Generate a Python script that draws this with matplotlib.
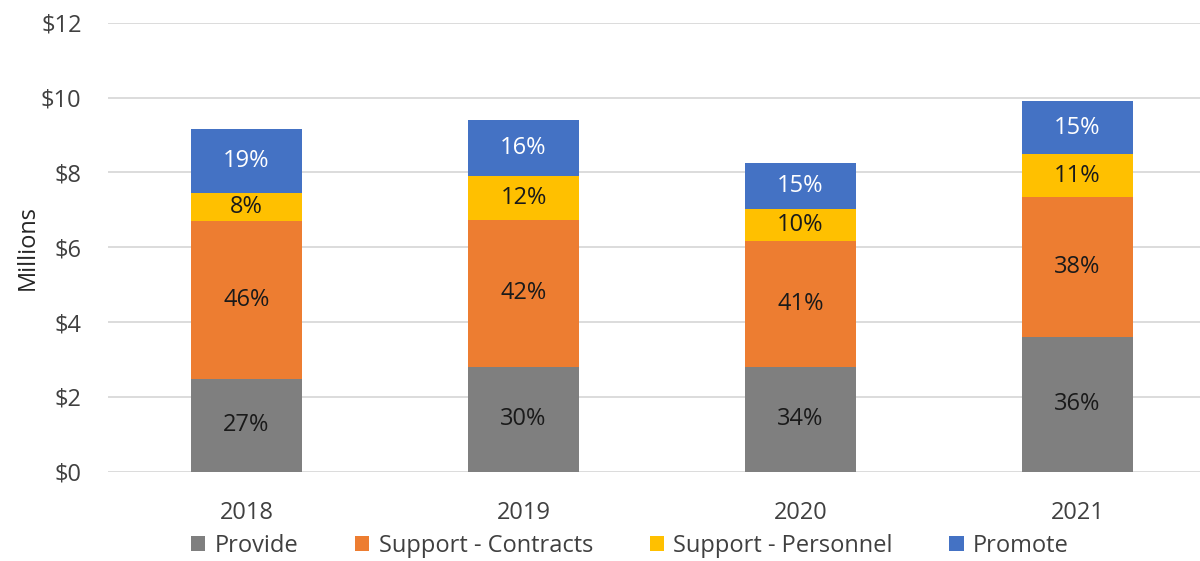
import numpy as np
import matplotlib.pyplot as plt
from matplotlib.ticker import FuncFormatter

years = ['2018', '2019', '2020', '2021']
series = ['Provide', 'Support - Contracts', 'Support - Personnel', 'Promote']

# values in $ millions
provide = [2.49, 2.81, 2.81, 3.61]
contracts = [4.22, 3.93, 3.37, 3.74]
personnel = [0.75, 1.16, 0.85, 1.13]
promote = [1.71, 1.49, 1.23, 1.44]

colors = ['#7F7F7F', '#ED7D31', '#FFC000', '#4472C4']
label_colors = ['#1a1a1a', '#1a1a1a', '#1a1a1a', 'white']

plt.rcParams['font.family'] = ['Open Sans', 'DejaVu Sans']

fig = plt.figure(figsize=(12, 5.61), dpi=100)
ax = fig.add_axes([108 / 1200, 0.159, 1100 / 1200, 0.8005])

x = np.arange(len(years))
data = np.array([provide, contracts, personnel, promote])
totals = data.sum(axis=0)
bottom = np.zeros(len(years))
width = 0.4

for vals, name, col, tcol in zip(data, series, colors, label_colors):
    ax.bar(x, vals, width, bottom=bottom, color=col, label=name, zorder=3)
    for xi, v, b, t in zip(x, vals, bottom, totals):
        ax.text(xi, b + v / 2, f'{round(v / t * 100):.0f}%', ha='center', va='center',
                fontsize=17, color=tcol, zorder=4)
    bottom += vals

ax.set_ylim(0, 12)
ax.set_yticks(np.arange(0, 13, 2))
ax.yaxis.set_major_formatter(FuncFormatter(lambda v, p: f'${v:.0f}'))
ax.set_xlim(-0.5, 3.5 - 8 / 275)
ax.set_xticks(x)
ax.set_xticklabels(years)

ax.grid(axis='y', color='#D9D9D9', linewidth=1.3, zorder=0)
for s in ax.spines.values():
    s.set_visible(False)
ax.tick_params(axis='both', length=0, labelsize=17, labelcolor='#404040')
ax.tick_params(axis='y', pad=19)
ax.tick_params(axis='x', pad=21)

ax.set_ylabel('Millions', fontsize=17, color='#262626', labelpad=8)
ax.yaxis.set_label_coords(-68 / 1100, 0.5)

fig.legend(loc='center', bbox_to_anchor=(630 / 1200, 1 - 546 / 561), ncol=4,
           frameon=False, fontsize=17, handlelength=0.6, handleheight=0.6,
           handletextpad=0.4, columnspacing=2.4, labelcolor='#404040')

fig.savefig('out.png', dpi=100)
